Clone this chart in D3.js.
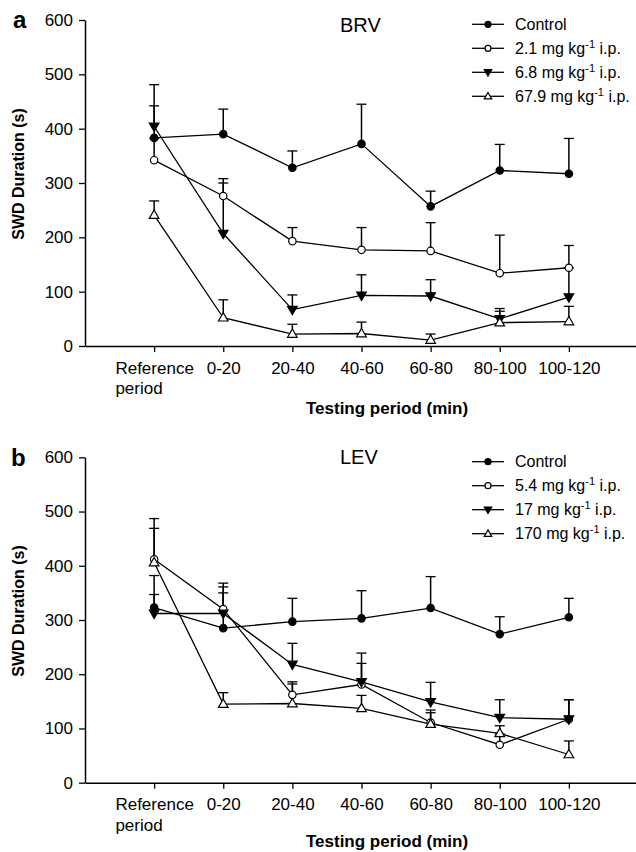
<!DOCTYPE html>
<html>
<head>
<meta charset="utf-8">
<script src="https://cdn.jsdelivr.net/npm/d3@7"></script>
<style>
  body { margin: 0; background: #fff; }
  svg text { font-family: "Liberation Sans", Arial, sans-serif; fill: #000; }
</style>
</head>
<body>
<svg id="chart" width="636" height="852"></svg>
<script>
// testing periods on the x axis
const periods = ["Reference period", "0-20", "20-40", "40-60", "60-80", "80-100", "100-120"];
const yTicks = [0, 100, 200, 300, 400, 500, 600];

// panel a, BRV: means and upward error (s)
const brvControl = [383, 390, 328, 372, 257, 323, 317];
const brvControlErr = [59, 46, 31, 73, 28, 48, 65];
const brvLow = [342, 276, 193, 177, 175, 134, 144];
const brvLowErr = [40, 32, 25, 41, 52, 70, 41];
const brvMid = [404, 207, 67, 93, 92, 50, 90];
const brvMidErr = [77, 93, 27, 38, 30, 19, 54];
const brvHigh = [241, 52, 22, 23, 11, 43, 45];
const brvHighErr = [26, 33, 18, 21, 11, 21, 28];
const brvDoses = ["2.1", "6.8", "67.9"];

// panel b, LEV
const levControl = [323, 285, 297, 303, 322, 274, 305];
const levControlErr = [59, 65, 43, 51, 58, 32, 35];
const levLow = [412, 320, 162, 181, 111, 70, 117];
const levLowErr = [75, 48, 24, 39, 23, 20, 36];
const levMid = [312, 312, 218, 186, 149, 120, 117];
const levMidErr = [35, 49, 39, 53, 36, 33, 36];
const levHigh = [406, 145, 146, 137, 108, 91, 52];
const levHighErr = [63, 21, 36, 24, 21, 14, 25];
const levDoses = ["5.4", "17", "170"];

const svg = d3.select("#chart");

// x is the period index, 1..7, with 0 at the y axis
const x = d3.scaleLinear().domain([0, 8]).range([85, 638]);

function markerPath(kind, big) {
    if (kind === "circle") return null;
    let size = big ? 40 : 24;
    return d3.symbol(d3.symbolTriangle, size)();
}

function drawMarker(g, kind, px, py, big) {
    let r = big ? 3.7 : 3;
    if (kind === "dot" || kind === "ring") {
        g.append("circle")
            .attr("cx", px).attr("cy", py).attr("r", r)
            .attr("fill", kind === "dot" ? "#000" : "#fff")
            .attr("stroke", "#000").attr("stroke-width", 1.2);
    } else {
        let rot = kind === "down" ? 180 : 0;
        let dy = kind === "down" ? -0.5 : 0.5;
        g.append("path")
            .attr("d", d3.symbol(d3.symbolTriangle, big ? 40 : 24)())
            .attr("transform", "translate(" + px + "," + (py + dy) + ") rotate(" + rot + ")")
            .attr("fill", kind === "down" ? "#000" : "#fff")
            .attr("stroke", "#000").attr("stroke-width", 1.2);
    }
}

function drawPanel(p) {
    let y = d3.scaleLinear().domain([0, 600]).range([p.bottom, p.top]);
    let g = svg.append("g");

    // y axis
    let yAxis = g.append("g")
        .attr("transform", "translate(" + x(0) + ",0)")
        .call(d3.axisLeft(y).tickValues(yTicks).tickSize(6).tickPadding(6).tickSizeOuter(0));
    yAxis.select(".domain").attr("stroke-width", 1.5);
    yAxis.selectAll(".tick line").attr("stroke-width", 1.3);
    yAxis.selectAll("text").attr("font-size", 17).attr("font-family", null);

    // x axis
    let xAxis = g.append("g")
        .attr("transform", "translate(0," + p.bottom + ")")
        .call(d3.axisBottom(x).tickValues(d3.range(1, 8))
            .tickFormat(i => periods[i - 1]).tickSize(6).tickPadding(p.pad).tickSizeOuter(0));
    xAxis.select(".domain").attr("stroke-width", 1.5);
    xAxis.selectAll(".tick line").attr("stroke-width", 1.3);
    xAxis.selectAll("text").attr("font-size", 17).attr("font-family", null);

    // two-line first label, left aligned
    xAxis.selectAll(".tick text").filter(i => i === 1).each(function() {
        let t = d3.select(this);
        t.text("Reference");
        let w = this.getComputedTextLength();
        let x0 = -w / 2;
        t.attr("text-anchor", "start").attr("x", x0);
        t.append("tspan").attr("x", x0).attr("dy", "1.2em").text("period");
    });

    // axis titles
    g.append("text")
        .attr("transform", "translate(24," + p.yLabelMid + ") rotate(-90)")
        .attr("text-anchor", "middle").attr("font-size", 16).attr("font-weight", "bold")
        .text("SWD Duration (s)");
    g.append("text")
        .attr("x", 387).attr("y", p.xTitleY)
        .attr("text-anchor", "middle").attr("font-size", 17).attr("font-weight", "bold")
        .text("Testing period (min)");

    // panel letter and drug name
    g.append("text").attr("x", p.letterX).attr("y", p.letterY)
        .attr("font-size", 24).attr("font-weight", "bold").text(p.letter);
    g.append("text").attr("x", 340).attr("y", p.nameY)
        .attr("font-size", 20).text(p.name);

    let line = d3.line().x((d, i) => x(i + 1)).y(d => y(d));

    // connecting lines
    p.series.forEach(s => {
        g.append("path").datum(s.values)
            .attr("d", line).attr("fill", "none")
            .attr("stroke", "#000").attr("stroke-width", 1.3);
    });

    // error bars, upward only
    p.series.forEach(s => {
        s.values.forEach((v, i) => {
            let px = x(i + 1);
            let top = y(v + s.err[i]);
            g.append("line").attr("x1", px).attr("x2", px)
                .attr("y1", y(v)).attr("y2", top)
                .attr("stroke", "#000").attr("stroke-width", 1.5);
            g.append("line").attr("x1", px - 5).attr("x2", px + 5)
                .attr("y1", top).attr("y2", top)
                .attr("stroke", "#000").attr("stroke-width", 1.3);
        });
    });

    // markers
    p.series.forEach(s => {
        s.values.forEach((v, i) => drawMarker(g, s.kind, x(i + 1), y(v), true));
    });

    // legend
    p.series.forEach((s, k) => {
        let ly = p.legendY + k * 24;
        g.append("line").attr("x1", 472).attr("x2", 504).attr("y1", ly).attr("y2", ly)
            .attr("stroke", "#000").attr("stroke-width", 1.3);
        drawMarker(g, s.kind, 488, ly, false);
        let t = g.append("text").attr("x", 515).attr("y", ly + 5.5).attr("font-size", 16);
        if (s.dose) {
            t.append("tspan").text(s.dose + " mg kg");
            t.append("tspan").attr("font-size", 11).attr("dy", -6).text("-1");
            t.append("tspan").attr("dy", 6).text(" i.p.");
        } else {
            t.text("Control");
        }
    });
}

drawPanel({
    top: 20, bottom: 346, pad: 10, yLabelMid: 174, xTitleY: 414,
    letter: "a", letterX: 13, letterY: 28, name: "BRV", nameY: 32, legendY: 24.3,
    series: [
        { kind: "dot", values: brvControl, err: brvControlErr },
        { kind: "ring", values: brvLow, err: brvLowErr, dose: brvDoses[0] },
        { kind: "down", values: brvMid, err: brvMidErr, dose: brvDoses[1] },
        { kind: "up", values: brvHigh, err: brvHighErr, dose: brvDoses[2] }
    ]
});

drawPanel({
    top: 457.3, bottom: 782.7, pad: 9.5, yLabelMid: 611, xTitleY: 847,
    letter: "b", letterX: 11, letterY: 466, name: "LEV", nameY: 464, legendY: 461.7,
    series: [
        { kind: "dot", values: levControl, err: levControlErr },
        { kind: "ring", values: levLow, err: levLowErr, dose: levDoses[0] },
        { kind: "down", values: levMid, err: levMidErr, dose: levDoses[1] },
        { kind: "up", values: levHigh, err: levHighErr, dose: levDoses[2] }
    ]
});
</script>
</body>
</html>
